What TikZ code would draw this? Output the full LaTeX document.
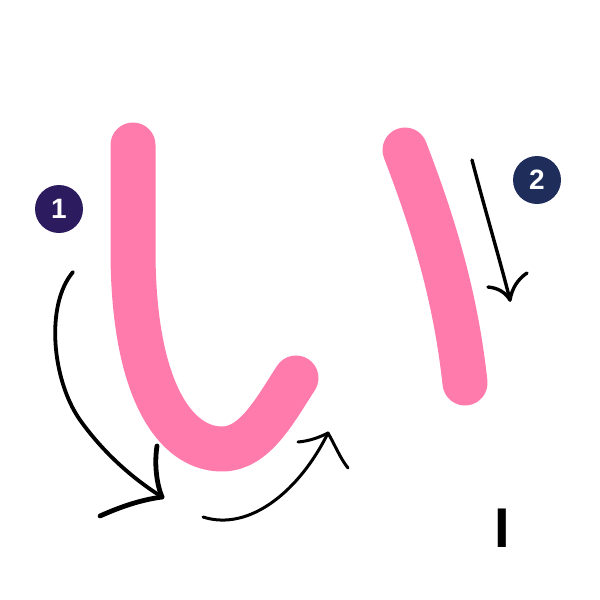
\documentclass[tikz,border=0pt]{standalone}
\usepackage{fontspec}
\setmainfont{Liberation Sans}
\usetikzlibrary{calc, positioning}

\definecolor{kanapink}{HTML}{FF7BAC}
\definecolor{numone}{HTML}{2C1B5E}
\definecolor{numtwo}{HTML}{1F2D5A}

\tikzset{
    kana/.style={draw=kanapink, line width=22.5pt, line cap=round, line join=round},
    guide/.style={draw=black, line width=1.5pt, line cap=round, line join=round},
    num/.style={circle, minimum size=24pt, inner sep=0pt, text=white,
        font=\bfseries\fontsize{14}{14}\selectfont}
}

\begin{document}
\begin{tikzpicture}[x=0.5pt, y=-0.5pt]
    \useasboundingbox (0,0) rectangle (600,600);

    % strokes of the kana
    \draw[kana] (133,145) -- (133,255)
        .. controls (134,390) and (175,449) .. (222,449)
        .. controls (255,449) and (275,410) .. (296,378);
    \draw[kana] (405,150) .. controls (430,215) and (455,290) .. (465,383);

    \node[num, fill=numone] (n1) at (59,209) {1};
    \node[num, fill=numtwo] (n2) at (537,180) {2};

    \coordinate (a1s) at (73,272);
    \coordinate (a1t) at (162,497);
    \coordinate (a1u) at (157,446);
    \coordinate (a1l) at (100,516);
    \draw[guide, line width=1.9pt] (a1s) .. controls (45,305) and (52,380) .. (80,420)
        .. controls (105,455) and (135,480) .. (a1t);
    \draw[guide, line width=2.4pt] (a1u) .. controls (154,465) and (157,485) .. (a1t);
    \draw[guide, line width=2.4pt] (a1l) .. controls (120,507) and (140,500) .. (a1t);

    \coordinate (a3s) at (203,517);
    \coordinate (a3t) at (328,433);
    \coordinate (a3l) at (298,442);
    \coordinate (a3r) at (348,468);
    \draw[guide] (a3s) .. controls (250,532) and (300,490) .. (a3t);
    \draw[guide] (a3l) .. controls (310,441) and (320,437) .. (a3t);
    \draw[guide] (a3t) .. controls (335,445) and (340,458) .. (a3r);

    \coordinate (a2s) at (472,160);
    \coordinate (a2t) at (510,300);
    \coordinate (a2l) at (488,287);
    \coordinate (a2r) at (527,273);
    \draw[guide, line width=1.7pt] (a2s) .. controls (485,210) and (500,260) .. (a2t);
    \draw[guide, line width=1.7pt] (a2l) .. controls (498,288) and (505,292) .. (a2t);
    \draw[guide, line width=1.7pt] (a2t) .. controls (512,288) and (518,279) .. (a2r);

    \node[inner sep=0pt, font=\bfseries\fontsize{28}{28}\selectfont] (lat) at (502,528) {I};
\end{tikzpicture}
\end{document}
